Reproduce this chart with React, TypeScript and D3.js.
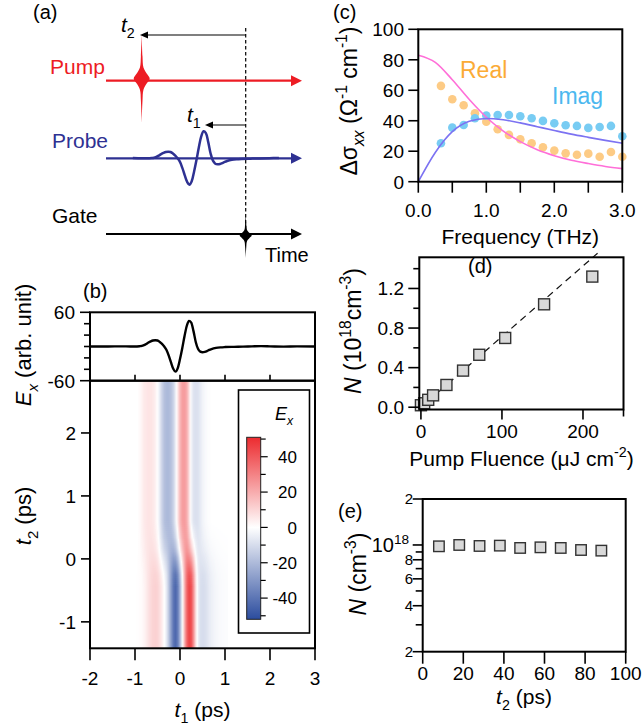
import * as d3 from 'd3'
import { useEffect, useRef } from 'react'

// (b) probe field E_x(t1) without pump
const probeT1 = [-2.0, -1.6, -1.3, -1.1, -1.0, -0.9, -0.85, -0.8, -0.75, -0.7, -0.65, -0.6, -0.55, -0.5, -0.45, -0.4, -0.35, -0.3, -0.25, -0.2, -0.15, -0.1, -0.05, 0.0, 0.05, 0.1, 0.15, 0.2, 0.25, 0.3, 0.35, 0.4, 0.45, 0.5, 0.55, 0.6, 0.65, 0.7, 0.8, 0.9, 1.0, 1.2, 1.4, 1.6, 1.8, 2.0, 2.3, 2.6, 3.0]
const probeE = [0, 0, 0.3, 0, 0, 0.5, 1, 2.5, 4.5, 7, 9, 10.5, 11, 10.5, 8, 4.5, 0, -6, -16, -28, -39, -44, -38, -22, -3, 18, 36, 45, 42, 27, 8, -4, -9, -10, -9.5, -8, -6, -4.5, -2.5, -1.5, -1, -0.6, -0.3, 0.2, 0.6, 0.3, -0.2, 0.2, 0]

// (b) heat map: field after the pump (t2 > 0.6 ps)
const heatT1 = [-1.0, -0.95, -0.9, -0.85, -0.8, -0.75, -0.7, -0.65, -0.6, -0.55, -0.5, -0.45, -0.4, -0.35, -0.3, -0.25, -0.2, -0.15, -0.1, -0.05, 0.0, 0.05, 0.1, 0.15, 0.2, 0.25, 0.3, 0.35, 0.4, 0.45, 0.5, 0.55, 0.6, 0.65, 0.7, 0.75, 0.8, 0.85, 0.9, 0.95, 1.0]
const pumpedE = [0, 0, 1, 3, 5, 6, 6.5, 6.5, 5.5, 3.5, 0, -6, -13, -18, -20, -20, -18, -13, -5, 6, 17, 23, 24, 20, 9, -3, -8, -9, -8.5, -6, -3.5, -2, -1, -0.5, 0, 0, 0, 0, 0, 0, 0]
// share of the unpumped field along t2
const t2Knots = [-1.42, -0.45, -0.25, -0.05, 0.15, 0.35, 0.6, 2.83]
const unpumpedShare = [1, 1, 0.9, 0.65, 0.35, 0.15, 0, 0]

// (c) conductivity
const freqDots = [0.333, 0.5, 0.667, 0.833, 1.0, 1.167, 1.333, 1.5, 1.667, 1.833, 2.0, 2.167, 2.333, 2.5, 2.667, 2.833, 3.0]
const realDots = [62.9, 54.1, 50.2, 44.9, 39.4, 34.4, 30.7, 27.8, 25.2, 22.6, 20.4, 18.6, 17.7, 18.4, 16.4, 19.5, 16.4]
const imagDots = [25.2, 35.5, 37.2, 41.6, 43.4, 43.8, 43.8, 42.9, 41.6, 39.9, 38.3, 37.0, 36.6, 35.3, 35.9, 36.6, 29.8]
const fitFreq = [0, 0.25, 0.5, 0.75, 1.0, 1.25, 1.5, 1.75, 2.0, 2.25, 2.5, 2.75, 3.0]
const fitReal = [83, 78.3, 66.9, 53.9, 42.3, 33.2, 26.3, 21.0, 17.1, 14.1, 11.9, 10.0, 8.6]
const fitImag = [0, 19.2, 32.8, 39.6, 41.5, 40.6, 38.6, 36.1, 33.6, 31.2, 29.1, 27.1, 25.3]

// (d) density vs fluence
const fluence = [0, 4, 9, 15, 31.5, 52, 72, 104, 152, 211.5]
const density = [0.02, 0.04, 0.075, 0.12, 0.225, 0.37, 0.53, 0.7, 1.04, 1.32]
const lineFluence = [0, 218]
const lineDensity = [0, 1.556]

// (e) density vs delay
const delayT2 = [8, 18, 28, 38, 48, 58, 68, 78, 88]
const densityT2 = [0.98e18, 1.0e18, 0.985e18, 0.99e18, 0.956e18, 0.965e18, 0.956e18, 0.927e18, 0.918e18]

const FONT = '"Liberation Sans", Arial, Helvetica, sans-serif'
const TICK = 19
const TITLE = 21

type Part = { t: string; i?: boolean; s?: 'sub' | 'sup' }

function rich(g: any, x: number, y: number, size: number, parts: Part[], anchor = 'middle', rotate = false, fill = '#000') {
    const txt = g
        .append('text')
        .attr('x', x)
        .attr('y', y)
        .attr('font-size', size)
        .attr('text-anchor', anchor)
        .attr('fill', fill)
    if (rotate) txt.attr('transform', `rotate(-90 ${x} ${y})`)
    let shift = 0
    parts.forEach((p) => {
        const target = p.s === 'sub' ? size * 0.3 : p.s === 'sup' ? -size * 0.42 : 0
        const ts = txt.append('tspan').text(p.t).attr('dy', target - shift)
        if (p.i) ts.attr('font-style', 'italic')
        if (p.s) ts.attr('font-size', size * 0.68)
        shift = target
    })
}

function frame(g: any, x0: number, y0: number, x1: number, y1: number) {
    g.append('rect')
        .attr('x', x0)
        .attr('y', y0)
        .attr('width', x1 - x0)
        .attr('height', y1 - y0)
        .attr('fill', 'none')
        .attr('stroke', '#000')
        .attr('stroke-width', 2)
}

function ticksLeft(g: any, scale: any, values: number[], x: number, len: number) {
    values.forEach((v) => {
        g.append('line').attr('x1', x).attr('x2', x - len).attr('y1', scale(v)).attr('y2', scale(v)).attr('stroke', '#000').attr('stroke-width', 1.6)
    })
}

function ticksBottom(g: any, scale: any, values: number[], y: number, len: number) {
    values.forEach((v) => {
        g.append('line').attr('x1', scale(v)).attr('x2', scale(v)).attr('y1', y).attr('y2', y + len).attr('stroke', '#000').attr('stroke-width', 1.6)
    })
}

function labelsLeft(g: any, scale: any, values: number[], x: number, fmt: (v: number) => string, size = TICK) {
    values.forEach((v) => {
        g.append('text').attr('x', x).attr('y', scale(v)).attr('dy', '0.36em').attr('text-anchor', 'end').attr('font-size', size).text(fmt(v))
    })
}

function labelsBottom(g: any, scale: any, values: number[], y: number, fmt: (v: number) => string) {
    values.forEach((v) => {
        g.append('text').attr('x', scale(v)).attr('y', y).attr('text-anchor', 'middle').attr('font-size', TICK).text(fmt(v))
    })
}

const spikeShape = [[-1, 0], [-0.5, 0.1], [-0.25, 0.22], [-0.12, 0.6], [0, 1], [0.12, 0.6], [0.25, 0.22], [0.5, 0.1], [1, 0]]

function drawSchematic(g: any) {
    const x0 = 106
    const x1 = 302
    const gateX = 245.7
    const rows = [
        { y: 80.7, color: '#ed1c24' },
        { y: 158.3, color: '#2e3192' },
        { y: 234, color: '#000' },
    ]
    rows.forEach((r) => {
        g.append('line').attr('x1', x0).attr('x2', x1 - 9).attr('y1', r.y).attr('y2', r.y).attr('stroke', r.color).attr('stroke-width', 2.2)
        g.append('path').attr('d', `M${x1},${r.y}L${x1 - 11},${r.y - 5.5}L${x1 - 11},${r.y + 5.5}Z`).attr('fill', r.color)
    })

    g.append('line')
        .attr('x1', gateX)
        .attr('x2', gateX)
        .attr('y1', 28)
        .attr('y2', 230)
        .attr('stroke', '#000')
        .attr('stroke-width', 1.2)
        .attr('stroke-dasharray', '3.5 2.5')

    const spike = (cx: number, cy: number, h: number, w: number) =>
        d3
            .area<number[]>()
            .y((d) => cy + d[0] * h)
            .x0((d) => cx - d[1] * w)
            .x1((d) => cx + d[1] * w)
            .curve(d3.curveCatmullRom)(spikeShape as any)
    g.append('path').attr('d', spike(141.7, 78.5, 44.5, 8)).attr('fill', '#ed1c24')
    g.append('path').attr('d', spike(gateX, 235.5, 22.5, 6)).attr('fill', '#000')

    // probe pulse sketched from the same waveform
    const xa = d3.scaleLinear().domain([-1.87, 2.29]).range([x0, x1])
    const ya = d3.scaleLinear().domain([-50, 50]).range([158.3 + 30, 158.3 - 30])
    const pts = probeT1.map((t, i) => [t, probeE[i]]).filter((d) => d[0] > -1.5 && d[0] < 2)
    g.append('path')
        .attr('d', d3.line<number[]>().x((d) => xa(d[0])).y((d) => ya(d[1])).curve(d3.curveCatmullRom)(pts))
        .attr('fill', 'none')
        .attr('stroke', '#2e3192')
        .attr('stroke-width', 2.5)

    const delay = (y: number, xEnd: number) => {
        g.append('line').attr('x1', gateX).attr('x2', xEnd + 6).attr('y1', y).attr('y2', y).attr('stroke', '#000').attr('stroke-width', 1.2)
        g.append('path').attr('d', `M${xEnd},${y}L${xEnd + 8},${y - 3.5}L${xEnd + 8},${y + 3.5}Z`).attr('fill', '#000')
    }
    delay(35, 140)
    delay(125, 205)
    rich(g, 121, 31.5, 21, [{ t: 't', i: true }, { t: '2', s: 'sub' }], 'start')
    rich(g, 187, 121.5, 21, [{ t: 't', i: true }, { t: '1', s: 'sub' }], 'start')

    g.append('text').attr('x', 50).attr('y', 74).attr('font-size', 21).attr('fill', '#ed1c24').text('Pump')
    g.append('text').attr('x', 52).attr('y', 147.7).attr('font-size', 21).attr('fill', '#2e3192').text('Probe')
    g.append('text').attr('x', 52).attr('y', 222.7).attr('font-size', 21).text('Gate')
    g.append('text').attr('x', 265).attr('y', 262).attr('font-size', 20).text('Time')
    g.append('text').attr('x', 33).attr('y', 19).attr('font-size', 20).text('(a)')
}

function drawWaveform(g: any, svg: any) {
    const L = 90
    const R = 315
    const T = 312.3
    const M = 380.7
    const B = 648.3
    const x = d3.scaleLinear().domain([-2, 3]).range([L, R])
    const yE = d3.scaleLinear().domain([-60, 60]).range([M, T])
    const y2 = d3.scaleLinear().domain([-1.42, 2.83]).range([B, M])

    const unpumped = d3.scaleLinear().domain(probeT1).range(probeE).clamp(true)
    const pumped = d3.scaleLinear().domain(heatT1).range(pumpedE).clamp(true)
    const share = d3.scaleLinear().domain(t2Knots).range(unpumpedShare).clamp(true)
    const color = d3.scaleLinear<string>().domain([-52, 0, 51]).range(['#2b4c9e', '#ffffff', '#ec2b2f']).clamp(true)

    // heat map rows grouped where the share stays the same
    const groups: { y0: number; y1: number; w: number }[] = []
    for (let py = M; py < B; py += 2) {
        const w = Math.round(share(y2.invert(py + 1)) * 100) / 100
        const last = groups[groups.length - 1]
        if (last && last.w === w) last.y1 = Math.min(py + 2, B)
        else groups.push({ y0: py, y1: Math.min(py + 2, B), w })
    }
    const cols = d3.range(x(-1.05), x(1.05), 1)
    const cells: { x: number; y: number; h: number; c: string }[] = []
    groups.forEach((gr) => {
        cols.forEach((cx) => {
            const t1 = x.invert(cx + 0.5)
            const v = gr.w * unpumped(t1) + (1 - gr.w) * pumped(t1)
            cells.push({ x: cx, y: gr.y0, h: gr.y1 - gr.y0, c: color(v) })
        })
    })
    svg.append('defs').append('clipPath').attr('id', 'heatClip').append('rect').attr('x', L).attr('y', M).attr('width', R - L).attr('height', B - M)
    g.append('g')
        .attr('clip-path', 'url(#heatClip)')
        .selectAll('rect')
        .data(cells)
        .enter()
        .append('rect')
        .attr('x', (d: any) => d.x)
        .attr('y', (d: any) => d.y)
        .attr('width', 1.3)
        .attr('height', (d: any) => d.h + 0.4)
        .attr('fill', (d: any) => d.c)

    // trace
    g.append('path')
        .attr('d', d3.line<number>().x((d, i) => x(probeT1[i])).y((d) => yE(d)).curve(d3.curveMonotoneX)(probeE))
        .attr('fill', 'none')
        .attr('stroke', '#000')
        .attr('stroke-width', 2.4)

    frame(g, L, T, R, M)
    frame(g, L, M, R, B)
    ticksLeft(g, yE, [-60, 60], L, 10)
    ticksLeft(g, yE, [-40, -20, 0, 20, 40], L, 6)
    labelsLeft(g, yE, [-60, 60], 75, (v) => `${v}`)
    x.ticks(5)
        .filter((v) => v > -2 && v < 3)
        .forEach((v) => {
            g.append('line').attr('x1', x(v)).attr('x2', x(v)).attr('y1', M).attr('y2', M - 6).attr('stroke', '#000').attr('stroke-width', 1.6)
        })
    ticksLeft(g, y2, [-1, 0, 1, 2], L, 9)
    labelsLeft(g, y2, [-1, 0, 1, 2], 76, (v) => `${v}`)
    ticksBottom(g, x, [-2, -1, 0, 1, 2, 3], B, 12)
    labelsBottom(g, x, [-2, -1, 0, 1, 2, 3], 685, (v) => `${v}`)

    rich(g, 202.5, 717, TITLE, [{ t: 't', i: true }, { t: '1', s: 'sub' }, { t: ' (ps)' }])
    rich(g, 31, 516, 22, [{ t: 't', i: true }, { t: '2', s: 'sub' }, { t: ' (ps)' }], 'middle', true)
    rich(g, 31, 345, 22, [{ t: 'E', i: true }, { t: 'x', i: true, s: 'sub' }, { t: ' (arb. unit)' }], 'middle', true)
    g.append('text').attr('x', 83).attr('y', 298).attr('font-size', 20).text('(b)')

    // colour bar
    g.append('rect').attr('x', 238.5).attr('y', 390).attr('width', 71).attr('height', 243).attr('fill', '#fff').attr('stroke', '#000').attr('stroke-width', 1.6)
    const cb = d3.scaleLinear().domain([-52, 51]).range([619.3, 437.3])
    const grad = svg.append('defs').append('linearGradient').attr('id', 'exGrad').attr('x1', 0).attr('y1', 1).attr('x2', 0).attr('y2', 0)
    ;[-52, 0, 51].forEach((v) => {
        grad.append('stop').attr('offset', (v + 52) / 103).attr('stop-color', color(v))
    })
    g.append('rect').attr('x', 246.7).attr('y', cb(51)).attr('width', 14).attr('height', cb(-52) - cb(51)).attr('fill', 'url(#exGrad)').attr('stroke', '#222').attr('stroke-width', 1)
    d3.range(-50, 51, 10).forEach((v) => {
        const len = v % 20 === 0 ? 7 : 5
        g.append('line').attr('x1', 260.7).attr('x2', 260.7 + len).attr('y1', cb(v)).attr('y2', cb(v)).attr('stroke', '#000').attr('stroke-width', 1.2)
    })
    ;[-40, -20, 0, 20, 40].forEach((v) => {
        g.append('text').attr('x', 297).attr('y', cb(v)).attr('dy', '0.36em').attr('text-anchor', 'end').attr('font-size', 17).text(`${v}`)
    })
    rich(g, 275, 420, 18, [{ t: 'E', i: true }, { t: 'x', i: true, s: 'sub' }], 'start')
}

function drawConductivity(g: any) {
    const L = 418.3
    const R = 622.3
    const T = 29.3
    const B = 181.7
    const x = d3.scaleLinear().domain([0, 3]).range([L, R])
    const y = d3.scaleLinear().domain([0, 100]).range([B, T])
    const line = d3.line<number>().x((d, i) => x(fitFreq[i])).y((d) => y(d)).curve(d3.curveMonotoneX)

    g.selectAll('.re')
        .data(realDots)
        .enter()
        .append('circle')
        .attr('cx', (d: number, i: number) => x(freqDots[i]))
        .attr('cy', (d: number) => y(d))
        .attr('r', 4.3)
        .attr('fill', '#fdcb85')
    g.selectAll('.im')
        .data(imagDots)
        .enter()
        .append('circle')
        .attr('cx', (d: number, i: number) => x(freqDots[i]))
        .attr('cy', (d: number) => y(d))
        .attr('r', 4.3)
        .attr('fill', '#78ccf3')
    g.append('path').attr('d', line(fitReal)).attr('fill', 'none').attr('stroke', '#ff6fd8').attr('stroke-width', 1.6)
    g.append('path').attr('d', line(fitImag)).attr('fill', 'none').attr('stroke', '#7c72f2').attr('stroke-width', 1.6)

    frame(g, L, T, R, B)
    const yt = [0, 20, 40, 60, 80, 100]
    ticksLeft(g, y, yt, L, 10)
    labelsLeft(g, y, yt, 404, (v) => `${v}`)
    ticksBottom(g, x, [0, 0.5, 1, 1.5, 2, 2.5, 3], B, 11)
    labelsBottom(g, x, [0, 1, 2, 3], 216.5, (v) => v.toFixed(1))

    g.append('text').attr('x', 460).attr('y', 78).attr('font-size', 23).attr('fill', '#fbab36').text('Real')
    g.append('text').attr('x', 552).attr('y', 104).attr('font-size', 23).attr('fill', '#4cb8ef').text('Imag')
    rich(g, 520.3, 244, TITLE, [{ t: 'Frequency (THz)' }])
    rich(g, 357, 101, 23, [{ t: 'Δσ' }, { t: 'xx', i: true, s: 'sub' }, { t: ' (Ω' }, { t: '-1', s: 'sup' }, { t: ' cm' }, { t: '-1', s: 'sup' }, { t: ')' }], 'middle', true)
    g.append('text').attr('x', 333).attr('y', 19).attr('font-size', 20).text('(c)')
}

function square(g: any, cx: number, cy: number, s: number) {
    g.append('rect')
        .attr('x', cx - s / 2)
        .attr('y', cy - s / 2)
        .attr('width', s)
        .attr('height', s)
        .attr('fill', '#d9d9d9')
        .attr('stroke', '#333')
        .attr('stroke-width', 1.4)
}

function drawFluence(g: any) {
    const L = 419.3
    const R = 623.5
    const T = 257.3
    const B = 409.5
    const x = d3.scaleLinear().domain([-2, 250]).range([L, R])
    const y = d3.scaleLinear().domain([-0.023, 1.515]).range([B, T])

    g.append('path')
        .attr('d', d3.line<number>().x((d, i) => x(lineFluence[i])).y((d) => y(d))(lineDensity))
        .attr('stroke', '#111')
        .attr('stroke-width', 1.2)
        .attr('stroke-dasharray', '7 5')
        .attr('fill', 'none')
    fluence.forEach((f, i) => square(g, x(f), y(density[i]), 11))

    frame(g, L, T, R, B)
    ticksLeft(g, y, [0, 0.4, 0.8, 1.2], L, 11)
    ticksLeft(g, y, [0.2, 0.6, 1.0, 1.4], L, 6)
    labelsLeft(g, y, [0, 0.4, 0.8, 1.2], 404, (v) => v.toFixed(1))
    ticksBottom(g, x, [0, 100, 200], B, 10)
    g.append('line').attr('x1', R).attr('x2', R).attr('y1', B).attr('y2', B + 7).attr('stroke', '#000').attr('stroke-width', 1.6)
    labelsBottom(g, x, [0, 100, 200], 438, (v) => `${v}`)

    rich(g, 521.5, 466, TITLE, [{ t: 'Pump Fluence (μJ cm' }, { t: '-2', s: 'sup' }, { t: ')' }])
    rich(g, 361, 331, 23, [{ t: 'N', i: true }, { t: ' (10' }, { t: '18', s: 'sup' }, { t: 'cm' }, { t: '-3', s: 'sup' }, { t: ')' }], 'middle', true)
    g.append('text').attr('x', 468).attr('y', 273).attr('font-size', 20).text('(d)')
}

function drawDecay(g: any) {
    const L = 422.7
    const R = 625.7
    const T = 499
    const B = 651.7
    const x = d3.scaleLinear().domain([0, 100]).range([L, R])
    const y = d3.scaleLog().domain([2e17, 2e18]).range([B, T])

    delayT2.forEach((t, i) => square(g, x(t), y(densityT2[i]), 10.5))

    frame(g, L, T, R, B)
    const labelled = [2e17, 4e17, 6e17, 8e17, 1e18, 2e18]
    ticksLeft(g, y, labelled, L, 10)
    ticksLeft(g, y, [3e17, 5e17, 7e17, 9e17], L, 7)
    labelsLeft(g, y, [2e17, 4e17, 6e17, 8e17], 413, (v) => `${Math.round(v / 1e17)}`, 15)
    labelsLeft(g, y, [2e18], 413, () => '2', 15)
    rich(g, 409, y(1e18) + 7, 20, [{ t: '10' }, { t: '18', s: 'sup' }], 'end')
    ticksBottom(g, x, [0, 20, 40, 60, 80, 100], B, 12)
    labelsBottom(g, x, [0, 20, 40, 60, 80, 100], 680, (v) => `${v}`)

    rich(g, 524, 704, TITLE, [{ t: 't', i: true }, { t: '2', s: 'sub' }, { t: ' (ps)' }])
    rich(g, 366, 574, 23, [{ t: 'N', i: true }, { t: ' (cm' }, { t: '-3', s: 'sup' }, { t: ')' }], 'middle', true)
    g.append('text').attr('x', 338).attr('y', 518).attr('font-size', 20).text('(e)')
}

function App() {
    const ref = useRef<SVGSVGElement>(null)

    useEffect(() => {
        const svg = d3.select(ref.current)
        svg.selectAll('*').remove()
        drawSchematic(svg.append('g'))
        drawWaveform(svg.append('g'), svg)
        drawConductivity(svg.append('g'))
        drawFluence(svg.append('g'))
        drawDecay(svg.append('g'))
    }, [])

    return (
        <svg
            ref={ref}
            width={642}
            height={725}
            fontFamily={FONT}
            style={{ position: 'absolute', left: 0, top: 0, background: '#fff' }}
        />
    )
}

export default App
